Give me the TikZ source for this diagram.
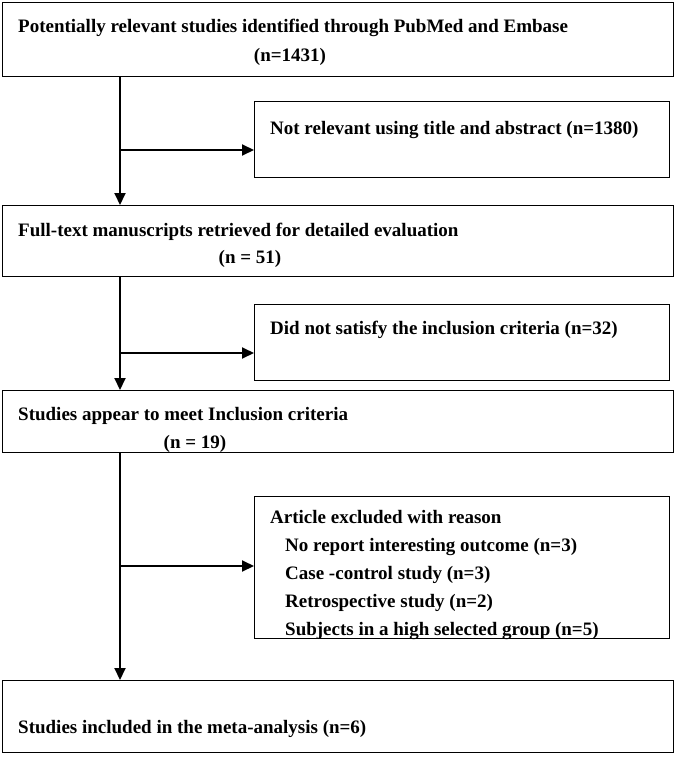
\documentclass[tikz,border=0pt]{standalone}
\usepackage{fontspec}
\setmainfont{Liberation Serif}
\usetikzlibrary{arrows.meta,positioning}
\tikzset{
  x=1pt,y=-1pt,
  box/.style={draw,line width=1.3pt,rectangle,anchor=north west,inner sep=0pt},
  txt/.style={anchor=base west,inner sep=0pt,font=\fontsize{19}{22}\selectfont\bfseries},
  ctxt/.style={anchor=base,inner sep=0pt,font=\fontsize{19}{22}\selectfont\bfseries},
  flow/.style={line width=2pt,-{Triangle[length=12pt,width=11pt]}},
}
\begin{document}
\begin{tikzpicture}
\useasboundingbox (0,0) rectangle (676,757);
% main boxes
\node[box,minimum width=671pt,minimum height=74pt] (b1) at (2,2) {};
\node[box,minimum width=671pt,minimum height=71pt] (b2) at (2,205) {};
\node[box,minimum width=671pt,minimum height=62pt] (b3) at (2,390) {};
\node[box,minimum width=671pt,minimum height=72pt] (b4) at (2,680) {};
% side boxes
\node[box,minimum width=415pt,minimum height=76pt] (s1) at (254,101) {};
\node[box,minimum width=415pt,minimum height=76pt] (s2) at (254,304) {};
\node[box,minimum width=415pt,minimum height=142pt] (s3) at (254,496) {};
% texts
\node[txt] (t1a) at (18,33) {Potentially relevant studies identified through PubMed and Embase};
\node[ctxt] (t1b) at (290,62) {(n=1431)};
\node[txt] (t2a) at (18,236) {Full-text manuscripts retrieved for detailed evaluation};
\node[ctxt] (t2b) at (250,263) {(n = 51)};
\node[txt] (t3a) at (18,420) {Studies appear to meet Inclusion criteria};
\node[ctxt] (t3b) at (195,448) {(n = 19)};
\node[txt] (t4a) at (18,733) {Studies included in the meta-analysis (n=6)};
\node[txt] (ts1) at (270,135) {Not relevant using title and abstract (n=1380)};
\node[txt] (ts2) at (270,334) {Did not satisfy the inclusion criteria (n=32)};
\node[txt] (ts3a) at (270,523) {Article excluded with reason};
\node[txt] (ts3b) at (285,551) {No report interesting outcome (n=3)};
\node[txt] (ts3c) at (285,579) {Case -control study (n=3)};
\node[txt] (ts3d) at (285,607) {Retrospective study (n=2)};
\node[txt] (ts3e) at (285,635) {Subjects in a high selected group (n=5)};
% trunk coordinates
\coordinate (j1) at (120,150);
\coordinate (j2) at (120,353);
\coordinate (j3) at (120,566);
% connectors
\draw[flow] (b1.south -| j1) -- (b2.north -| j1);
\draw[flow] (j1) -- (s1.west |- j1);
\draw[flow] (b2.south -| j2) -- (b3.north -| j2);
\draw[flow] (j2) -- (s2.west |- j2);
\draw[flow] (b3.south -| j3) -- (b4.north -| j3);
\draw[flow] (j3) -- (s3.west |- j3);
\end{tikzpicture}
\end{document}
